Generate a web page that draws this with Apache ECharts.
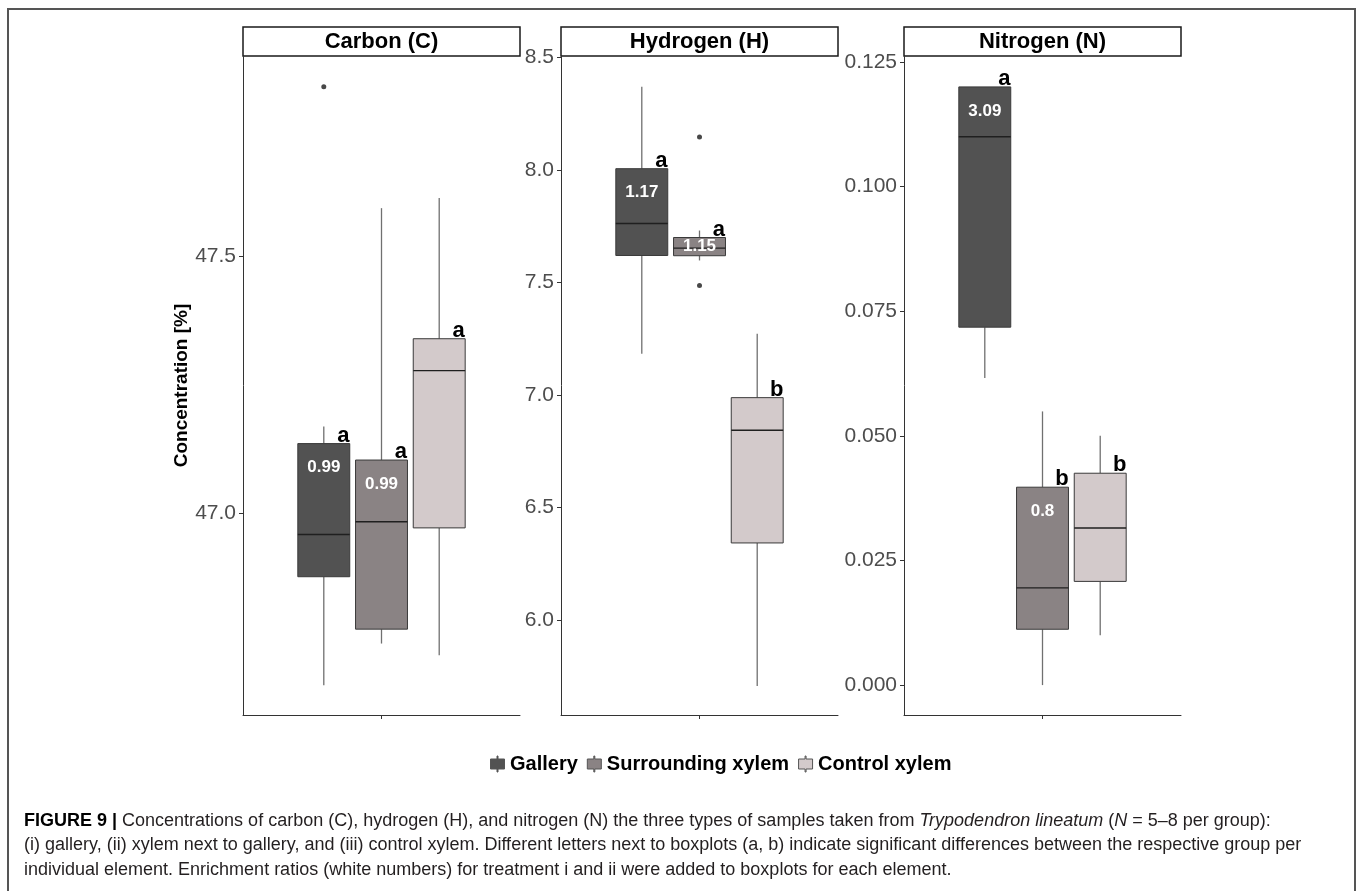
<!DOCTYPE html>
<html>
<head>
<meta charset="utf-8">
<script src="https://cdn.jsdelivr.net/npm/echarts@6/dist/echarts.min.js"></script>
<style>
  html, body { margin: 0; background: #fff; }
  #chart { width: 1357px; height: 891px; }
</style>
</head>
<body>
<div id="chart"></div>
<script>
// groups (fill order as in the legend)
const groups = ['Gallery', 'Surrounding xylem', 'Control xylem']

// box stats per group: [min, q1, median, q3, max]
const carbonStats = [
  [46.665, 46.876, 46.958, 47.135, 47.168],
  [46.746, 46.774, 46.983, 47.103, 47.593],
  [46.723, 46.971, 47.277, 47.339, 47.613]
]
const hydrogenStats = [
  [7.183, 7.620, 7.762, 8.006, 8.370],
  [7.598, 7.619, 7.653, 7.700, 7.731],
  [5.706, 6.342, 6.843, 6.988, 7.272]
]
const nitrogenStats = [
  [0.0616, 0.0718, 0.1100, 0.1200, 0.1200],
  [0.0000, 0.0112, 0.0195, 0.0397, 0.0549],
  [0.0100, 0.0208, 0.0315, 0.0425, 0.0500]
]

// outliers: [group index, value]
const carbonOutliers = [[0, 47.829]]
const hydrogenOutliers = [[1, 8.147], [1, 7.487]]
const nitrogenOutliers = []

// significance letters and enrichment ratios
const carbonLetters = ['a', 'a', 'a']
const hydrogenLetters = ['a', 'a', 'b']
const nitrogenLetters = ['a', 'b', 'b']
const carbonRatios = ['0.99', '0.99', '']
const hydrogenRatios = ['1.17', '1.15', '']
const nitrogenRatios = ['3.09', '0.8', '']

// y tick labels
const carbonTicks = [47.0, 47.5]
const hydrogenTicks = [6.0, 6.5, 7.0, 7.5, 8.0, 8.5]
const nitrogenTicks = [0, 0.025, 0.05, 0.075, 0.1, 0.125]

const FONT = '"Liberation Sans", Arial, sans-serif'
const fills = ['#525252', '#8a8384', '#d3cacb']
const BORDER = '#3a3a3a'
const WHISKER = '#707070'
const MEDIAN = '#1f1f1f'
const BOX_WIDTH = 0.225
const DODGE = 0.25

const panels = [
  { title: 'Carbon (C)', stats: carbonStats, outliers: carbonOutliers, letters: carbonLetters,
    ratios: carbonRatios, ticks: carbonTicks, digits: 1, min: 46.607, max: 47.889, left: 243 },
  { title: 'Hydrogen (H)', stats: hydrogenStats, outliers: hydrogenOutliers, letters: hydrogenLetters,
    ratios: hydrogenRatios, ticks: hydrogenTicks, digits: 1, min: 5.577, max: 8.507, left: 561 },
  { title: 'Nitrogen (N)', stats: nitrogenStats, outliers: nitrogenOutliers, letters: nitrogenLetters,
    ratios: nitrogenRatios, ticks: nitrogenTicks, digits: 3, min: -0.006, max: 0.1262, left: 904 }
]
const PANEL_W = 277
const PANEL_TOP = 56
const PANEL_BOTTOM = 715

const groupPos = (g) => 1 + (g - 1) * DODGE

// draws one box with whiskers, letter and ratio label
const makeBoxRenderer = (letter, ratio, color) => (params, api) => {
  const x = api.value(0)
  const ys = [1, 2, 3, 4, 5].map(i => api.coord([x, api.value(i)])[1])
  const cx = api.coord([x, api.value(3)])[0]
  const halfW = api.size([BOX_WIDTH, 0])[0] / 2
  const [yMin, yQ1, yMed, yQ3, yMax] = ys
  const children = [
    { type: 'line', shape: { x1: cx, y1: yQ3, x2: cx, y2: yMax }, style: { stroke: WHISKER, lineWidth: 1.3 } },
    { type: 'line', shape: { x1: cx, y1: yQ1, x2: cx, y2: yMin }, style: { stroke: WHISKER, lineWidth: 1.3 } },
    { type: 'rect', shape: { x: cx - halfW, y: yQ3, width: 2 * halfW, height: yQ1 - yQ3 },
      style: { fill: color, stroke: BORDER, lineWidth: 1 } },
    { type: 'line', shape: { x1: cx - halfW, y1: yMed, x2: cx + halfW, y2: yMed }, style: { stroke: MEDIAN, lineWidth: 1.4 } },
    { type: 'text', style: { text: letter, x: cx + halfW * 0.75, y: yQ3 + 3, textAlign: 'center',
      textVerticalAlign: 'bottom', fontFamily: FONT, fontWeight: 'bold', fontSize: 22, fill: '#000' } }
  ]
  if (ratio) {
    const off = Math.min(24, (yQ1 - yQ3) / 2)
    children.push({ type: 'text', z2: 10, style: { text: ratio, x: cx, y: yQ3 + off, textAlign: 'center',
      textVerticalAlign: 'middle', fontFamily: FONT, fontWeight: 'bold', fontSize: 17, fill: '#fff' } })
  }
  return { type: 'group', children }
}

const grid = []
const xAxis = []
const yAxis = []
const series = []
const graphic = []

panels.forEach((p, k) => {
  grid.push({ left: p.left, width: PANEL_W, top: PANEL_TOP, height: PANEL_BOTTOM - PANEL_TOP, outerBoundsMode: 'none' })
  xAxis.push({
    type: 'value', gridIndex: k, min: 0.4, max: 1.6,
    axisLine: { show: true, onZero: false, lineStyle: { color: '#333', width: 1 } },
    axisTick: { show: true, customValues: [1], length: 4, lineStyle: { color: '#333' } },
    axisLabel: { show: false }, splitLine: { show: false }
  })
  yAxis.push({
    type: 'value', gridIndex: k, min: p.min, max: p.max,
    axisLine: { show: true, onZero: false, lineStyle: { color: '#333', width: 1 } },
    axisTick: { show: true, customValues: p.ticks, length: 4, lineStyle: { color: '#333' } },
    axisLabel: { customValues: p.ticks, formatter: v => v.toFixed(p.digits), color: '#4d4d4d',
      fontFamily: FONT, fontSize: 21, margin: 7 },
    splitLine: { show: false },
    name: k === 0 ? 'Concentration [%]' : '',
    nameLocation: 'middle', nameGap: 50, nameRotate: 90,
    nameTextStyle: { fontFamily: FONT, fontWeight: 'bold', fontSize: 19, color: '#000' }
  })
  groups.forEach((name, g) => {
    series.push({
      type: 'custom', name, xAxisIndex: k, yAxisIndex: k,
      itemStyle: { color: fills[g] },
      encode: { x: 0, y: [1, 2, 3, 4, 5] },
      data: [[groupPos(g), ...p.stats[g]]],
      renderItem: makeBoxRenderer(p.letters[g], p.ratios[g], fills[g]),
      silent: true
    })
  })
  if (p.outliers.length) {
    series.push({
      type: 'scatter', name: 'outliers', xAxisIndex: k, yAxisIndex: k,
      symbol: 'circle', symbolSize: 5, itemStyle: { color: '#1a1a1a' },
      data: p.outliers.map(o => [groupPos(o[0]), o[1]]), silent: true, z: 5
    })
  }
  // facet strip
  graphic.push({
    type: 'rect', shape: { x: p.left, y: 27, width: PANEL_W, height: PANEL_TOP - 27 },
    style: { fill: '#fff', stroke: '#1a1a1a', lineWidth: 1.5 }
  })
  graphic.push({
    type: 'text', x: p.left + PANEL_W / 2, y: (27 + PANEL_TOP) / 2,
    style: { text: p.title, textAlign: 'center', textVerticalAlign: 'middle', fontFamily: FONT,
      fontWeight: 'bold', fontSize: 22, fill: '#000' }
  })
})

// outer frame and caption
graphic.push({
  type: 'rect', shape: { x: 8, y: 9, width: 1347, height: 900 },
  style: { fill: 'none', stroke: '#555', lineWidth: 2 }, z: -1
})
const captionLines = [
  '{b|FIGURE 9 |} Concentrations of carbon (C), hydrogen (H), and nitrogen (N) the three types of samples taken from {i|Trypodendron lineatum} ({i|N} = 5–8 per group):',
  '(i) gallery, (ii) xylem next to gallery, and (iii) control xylem. Different letters next to boxplots (a, b) indicate significant differences between the respective group per',
  'individual element. Enrichment ratios (white numbers) for treatment i and ii were added to boxplots for each element.'
]
const CAP_SIZE = 18
captionLines.forEach((line, i) => {
  graphic.push({
    type: 'text', x: 24, y: 821 + i * 24.5,
    style: {
      text: line, textVerticalAlign: 'middle', fontFamily: FONT, fontSize: CAP_SIZE, fill: '#231f20',
      rich: {
        b: { fontFamily: FONT, fontSize: CAP_SIZE, fontWeight: 'bold', fill: '#000' },
        i: { fontFamily: FONT, fontSize: CAP_SIZE, fontStyle: 'italic', fill: '#231f20' }
      }
    }
  })
})

const LEGEND_ICON = 'path://M6.5,0H7.5V3H14V13H7.5V16H6.5V13H0V3H6.5Z'

const chart = echarts.init(document.getElementById('chart'))
chart.setOption({
  animation: false,
  backgroundColor: '#fff',
  grid, xAxis, yAxis, series, graphic,
  legend: {
    data: groups.map(name => ({ name, icon: LEGEND_ICON })),
    left: 485, top: 749, itemWidth: 15, itemHeight: 16, itemGap: 9,
    itemStyle: { borderColor: '#555', borderWidth: 1 },
    textStyle: { fontFamily: FONT, fontWeight: 'bold', fontSize: 20, color: '#000' },
    selectedMode: false
  }
})
window.addEventListener('resize', () => chart.resize())
</script>
</body>
</html>
